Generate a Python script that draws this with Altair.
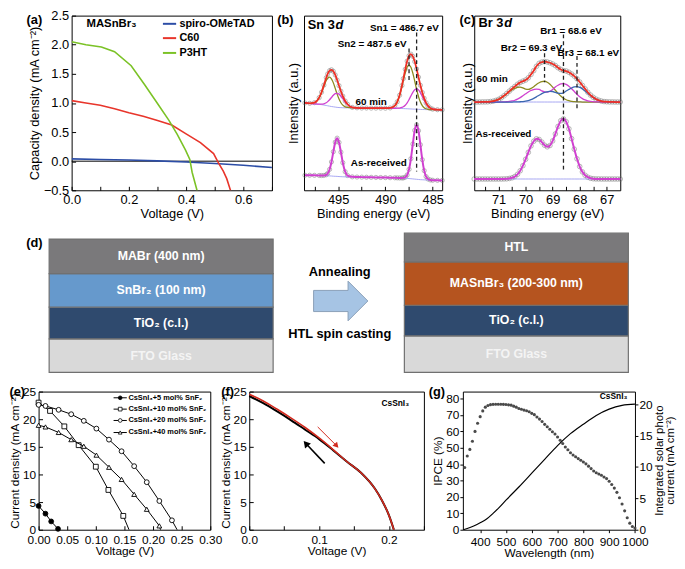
import altair as alt
import pandas as pd

FONT = "Liberation Sans"

# ============================ DATA ============================
# (a) MASnBr3 J-V with different HTLs
A_SERIES = ["spiro-OMeTAD", "C60", "P3HT"]
A_COLORS = ["#2c4da6", "#e8352b", "#7bc226"]
A_SPIRO_V = [0.0, 0.1, 0.2, 0.3, 0.4, 0.5, 0.6, 0.7]
A_SPIRO_J = [0.04, 0.03, 0.02, 0.005, -0.015, -0.04, -0.07, -0.11]
A_C60_V = [0.0, 0.05, 0.1, 0.15, 0.2, 0.25, 0.3, 0.35, 0.4, 0.45, 0.496, 0.513, 0.53, 0.542, 0.555, 0.565]
A_C60_J = [1.04, 1.0, 0.96, 0.9, 0.83, 0.77, 0.7, 0.62, 0.47, 0.32, 0.13, -0.03, -0.17, -0.3, -0.5, -0.62]
A_P3HT_V = [0.0, 0.05, 0.104, 0.15, 0.208, 0.254, 0.3, 0.34, 0.369, 0.398, 0.413, 0.421, 0.438, 0.446]
A_P3HT_J = [2.05, 2.0, 1.96, 1.88, 1.64, 1.32, 0.99, 0.7, 0.46, 0.19, 0.03, -0.19, -0.5, -0.62]

# (b) Sn 3d XPS (binding energy, intensity in a.u.)
SN_E = [498.5, 498.0, 497.5, 497.0, 496.75, 496.5, 496.25, 496.1, 495.9, 495.7,
        495.5, 495.3, 495.1, 494.9, 494.7, 494.5, 494.25, 494.0, 493.5, 493.0,
        492.5, 492.0, 491.5, 491.0, 490.5, 490.0, 489.5, 489.0, 488.75, 488.5,
        488.25, 488.1, 487.9, 487.7, 487.5, 487.3, 487.1, 486.9, 486.7, 486.5,
        486.3, 486.1, 485.9, 485.7, 485.5, 485.25, 485.0, 484.5, 484.0]
SN_TOP_BG = [93.0, 92.5, 92.0, 91.5, 91.2, 90.8, 90.3, 90.0, 89.6, 89.2,
             88.9, 88.6, 88.3, 88.1, 88.0, 87.9, 87.8, 87.8, 87.7, 87.7,
             87.6, 87.6, 87.5, 87.5, 87.5, 87.4, 87.4, 87.3, 87.3, 87.2,
             87.1, 87.0, 86.9, 86.8, 86.7, 86.6, 86.5, 86.4, 86.3, 86.2,
             86.1, 86.0, 86.0, 85.9, 85.9, 85.8, 85.8, 85.7, 85.7]
SN_TOP_SN2 = [0.0, 0.1, 1.3, 7.0, 12.7, 19.9, 26.7, 29.5, 31.0, 29.5,
              25.5, 19.9, 14.1, 9.0, 5.2, 2.8, 1.1, 0.4, 0.0, 0.0,
              0.0, 0.0, 0.0, 0.0, 0.0, 0.0, 0.3, 2.9, 6.8, 13.6,
              23.4, 30.0, 38.3, 44.5, 46.7, 44.5, 38.3, 30.0, 21.2, 13.6,
              7.9, 4.2, 2.0, 0.9, 0.3, 0.1, 0.0, 0.0, 0.0]
SN_TOP_SN1 = [0.0, 0.0, 0.0, 0.2, 0.5, 1.3, 2.9, 4.4, 6.8, 9.6,
              12.3, 14.3, 15.0, 14.3, 12.3, 9.6, 6.2, 3.4, 0.6, 0.1,
              0.0, 0.0, 0.0, 0.0, 0.0, 0.0, 0.0, 0.0, 0.1, 0.4,
              1.1, 1.9, 3.7, 6.3, 9.9, 13.9, 17.8, 20.7, 21.7, 20.7,
              17.8, 13.9, 9.9, 6.3, 3.7, 1.6, 0.6, 0.1, 0.0]
SN_BOT_BG = [16.0, 16.0, 15.9, 15.8, 15.7, 15.6, 15.5, 15.4, 15.3, 15.2,
             15.0, 14.9, 14.8, 14.6, 14.5, 14.4, 14.3, 14.3, 14.2, 14.1,
             14.0, 13.9, 13.8, 13.7, 13.6, 13.5, 13.4, 13.3, 13.2, 13.1,
             13.0, 12.9, 12.8, 12.7, 12.5, 12.3, 12.1, 11.9, 11.7, 11.5,
             11.3, 11.2, 11.1, 11.0, 10.9, 10.8, 10.7, 10.6, 10.5]
SN_BOT_SN1 = [0.0, 0.0, 0.0, 0.0, 0.0, 0.2, 1.0, 2.5, 6.9, 15.0,
              26.1, 36.4, 40.7, 36.4, 26.1, 15.0, 5.5, 1.4, 0.1, 0.0,
              0.0, 0.0, 0.0, 0.0, 0.0, 0.0, 0.0, 0.0, 0.0, 0.0,
              0.1, 0.3, 1.1, 3.6, 9.8, 21.4, 37.2, 51.9, 58.0, 51.9,
              37.2, 21.4, 9.8, 3.6, 1.1, 0.2, 0.0, 0.0, 0.0]
SN_MARK_E = [486.7, 487.5]
SN_MARK_TOP = [168, 151]
SN_MARK_BOT = [20, 116]

# (c) Br 3d XPS
BR_E = [71.9, 71.8, 71.7, 71.6, 71.5, 71.4, 71.3, 71.2, 71.1, 71.0,
        70.9, 70.8, 70.7, 70.6, 70.5, 70.4, 70.3, 70.2, 70.1, 70.0,
        69.9, 69.8, 69.7, 69.6, 69.5, 69.4, 69.3, 69.2, 69.1, 69.0,
        68.9, 68.8, 68.7, 68.6, 68.5, 68.4, 68.3, 68.2, 68.1, 68.0,
        67.9, 67.8, 67.7, 67.6, 67.5, 67.4, 67.3, 67.2, 67.1, 67.0,
        66.9, 66.8, 66.7, 66.6, 66.5]
BR_TOP_BG = 94.0
BR_TOP_BR2 = [0.0, 0.0, 0.0, 0.1, 0.1, 0.2, 0.5, 0.9, 1.7, 2.8,
              4.4, 6.4, 8.7, 11.0, 13.1, 14.5, 15.7, 15.9, 15.0, 13.8,
              13.5, 14.5, 16.3, 18.7, 20.5, 21.8, 22.1, 21.1, 18.9, 15.9,
              12.5, 9.2, 6.3, 4.0, 2.4, 1.4, 0.7, 0.4, 0.2, 0.1,
              0.0, 0.0, 0.0, 0.0, 0.0, 0.0, 0.0, 0.0, 0.0, 0.0,
              0.0, 0.0, 0.0, 0.0, 0.0]
BR_TOP_BR1 = [0.0, 0.0, 0.0, 0.0, 0.0, 0.0, 0.0, 0.0, 0.0, 0.0,
              0.1, 0.2, 0.3, 0.6, 1.1, 1.9, 3.1, 4.7, 6.7, 8.7,
              10.7, 12.3, 13.2, 13.8, 13.5, 11.8, 10.8, 10.6, 11.5, 13.4,
              16.1, 17.9, 19.2, 19.6, 18.8, 16.9, 14.2, 11.2, 8.2, 5.6,
              3.6, 2.2, 1.2, 0.6, 0.3, 0.1, 0.1, 0.0, 0.0, 0.0,
              0.0, 0.0, 0.0, 0.0, 0.0]
BR_TOP_BR3 = [0.0, 0.0, 0.0, 0.0, 0.0, 0.0, 0.0, 0.0, 0.0, 0.0,
              0.0, 0.0, 0.0, 0.0, 0.0, 0.1, 0.1, 0.3, 0.5, 0.9,
              1.6, 2.6, 3.9, 5.5, 7.2, 8.9, 10.2, 10.9, 11.4, 11.2,
              10.2, 9.4, 9.2, 9.8, 11.8, 13.4, 14.9, 16.0, 16.3, 15.6,
              14.0, 11.8, 9.2, 6.8, 4.7, 3.0, 1.8, 1.0, 0.5, 0.3,
              0.1, 0.1, 0.0, 0.0, 0.0]
BR_BOT_BG = 12.0
BR_BOT_BR1 = [0.0, 0.0, 0.0, 0.0, 0.0, 0.0, 0.0, 0.0, 0.0, 0.0,
              0.0, 0.1, 0.2, 0.6, 1.3, 2.6, 5.0, 8.8, 14.2, 21.0,
              28.4, 35.3, 40.2, 42.8, 42.1, 39.3, 36.0, 34.3, 35.7, 40.6,
              48.0, 56.0, 62.1, 64.1, 61.0, 53.5, 43.0, 31.8, 21.5, 13.3,
              7.6, 4.0, 1.9, 0.8, 0.3, 0.1, 0.1, 0.0, 0.0, 0.0,
              0.0, 0.0, 0.0, 0.0, 0.0]
BR_MARK_E = [68.6, 69.3, 68.1]
BR_MARK_TOP = [166, 146, 143]
BR_MARK_BOT = [20, 115, 86]

# (d) device schematic (bottom -> top), layer thickness in drawing units
D_LEFT_NAMES = ["FTO Glass", "TiO₂ (c.l.)", "SnBr₂ (100 nm)", "MABr (400 nm)"]
D_LEFT_THICK = [34, 32, 34, 35]
D_RIGHT_NAMES = ["FTO Glass", "TiO₂ (c.l.)", "MASnBr₃ (200-300 nm)", "HTL"]
D_RIGHT_THICK = [37, 31, 44, 29]

# (e) CsSnI3 with SnF2
E_LABELS = ["CsSnI₃+5 mol% SnF₂", "CsSnI₃+10 mol% SnF₂", "CsSnI₃+20 mol% SnF₂", "CsSnI₃+40 mol% SnF₂"]
E5_V = [0.0, 0.012, 0.022, 0.034]
E5_J = [4.3, 2.9, 1.5, 0.15]
E10_V = [0.0, 0.02, 0.045, 0.07, 0.1, 0.122, 0.148, 0.158]
E10_J = [23.0, 21.5, 18.7, 15.3, 11.4, 7.2, 2.5, 0.0]
E20_V = [0.0, 0.012, 0.035, 0.057, 0.079, 0.101, 0.123, 0.145, 0.167, 0.189, 0.211, 0.233, 0.242]
E20_J = [22.6, 22.4, 21.7, 20.9, 19.7, 18.3, 16.3, 14.2, 11.5, 8.6, 5.2, 1.7, 0.0]
E40_V = [0.0, 0.012, 0.035, 0.057, 0.079, 0.101, 0.123, 0.145, 0.167, 0.189, 0.211, 0.213]
E40_J = [18.9, 18.6, 17.6, 16.3, 15.1, 13.5, 11.3, 9.1, 6.4, 3.7, 0.7, 0.0]

# (f) CsSnI3 forward / reverse scan
F_V = [0.0, 0.02, 0.04, 0.06, 0.08, 0.1, 0.12, 0.14, 0.16, 0.18, 0.19, 0.2, 0.207]
F_FWD_J = [24.5, 23.3, 21.8, 20.2, 18.5, 16.6, 14.5, 12.3, 10.3, 7.4, 5.3, 2.6, 0.0]
F_REV_J = [24.2, 22.9, 21.4, 19.8, 18.1, 16.4, 14.4, 12.3, 10.3, 7.4, 5.3, 2.6, 0.0]
F_ARROW_RED = [0.098, 18.6, 0.125, 15.2]
F_ARROW_BLACK = [0.108, 12.0, 0.081, 15.6]

# (g) IPCE and integrated current
G_WL = [340, 350, 360, 370, 380, 390, 400, 410, 420, 430, 440, 450, 460, 470, 480, 490,
        500, 510, 520, 530, 540, 550, 560, 570, 580, 590, 600, 610, 620, 630, 640, 650,
        660, 670, 680, 690, 700, 710, 720, 730, 740, 750, 760, 770, 780, 790, 800, 810,
        820, 830, 840, 850, 860, 870, 880, 890, 900, 910, 920, 930, 940, 950, 960, 970,
        980, 990, 1000]
G_IPCE = [38, 45, 49, 54, 60, 65, 69, 72.5, 74.8, 75.8, 76.3, 76.5, 76.6, 76.6, 76.6, 76.5,
          76.4, 76.2, 76.0, 75.4, 74.8, 74.0, 73.5, 73.0, 72.6, 72.0, 71.0, 70.2, 68.8, 67.5, 66.0, 64.3,
          62.8, 61.3, 59.8, 58.4, 56.6, 54.6, 52.6, 50.5, 48.8, 47.0, 45.6, 44.5, 43.4, 42.4, 41.3, 40.2,
          38.8, 37.3, 35.8, 34.8, 34.0, 33.2, 32.2, 31.2, 29.6, 27.6, 25.4, 22.8, 19.5, 15.7, 11.5, 7.3,
          4.0, 2.0, 1.0]
G_JSC_WL = [335, 350, 375, 400, 425, 450, 475, 500, 550, 600, 650, 700, 750, 800, 850, 900, 950, 1000]
G_JSC = [0.0, 0.2, 0.6, 1.1, 1.7, 2.6, 3.6, 4.7, 6.8, 9.0, 11.2, 13.4, 15.3, 16.8, 18.2, 19.2, 19.8, 20.0]
G_RIGHT_TITLE = ["Integrated solar photo", "current (mA cm⁻²)"]

# ============================ LAYOUT / STYLE ============================
ROW1_H = 177
A_W, B_W, C_W = 203, 140, 148
D_W, D_H, D_BASE = 597.7, 152.5, 6
E_W, F_W, G_W, ROW3_H = 174, 177, 174.4, 140
ROW_GAP = 6
LEFT_EDGE = -29.5
TOP_LABEL_Y = 4
FRAME = alt.ViewBackground(stroke="black", strokeWidth=1)
ONE = pd.DataFrame({"k": [0]})


def every_expr(step):
    return f"abs(datum.value / {step} - round(datum.value / {step})) < 1e-6 ? datum.label : ''"


def axis(title, values=None, fmt=None, every=None, fs=13, lp=3, tp=2, tick=4, labels=True,
         inward=True, orient=None):
    kw = dict(title=title, domain=False, grid=False, labels=labels,
              labelFont=FONT, labelFontSize=fs, labelColor="black", labelPadding=lp,
              labelFlush=False, labelOverlap=False,
              titleFont=FONT, titleFontSize=fs, titleFontWeight="normal", titleColor="black",
              titlePadding=tp)
    if values is not None:
        kw["values"] = values
    if fmt is not None:
        kw["format"] = fmt
    if every is not None:
        kw["labelExpr"] = every_expr(every)
    if tick > 0:
        kw.update(ticks=True, tickSize=tick, tickColor="black", tickWidth=1)
        if inward:
            kw["offset"] = -tick
    else:
        kw["ticks"] = False
    if orient:
        kw["orient"] = orient
    return alt.Axis(**kw)


def panel_label(t, x, y, align="center"):
    return alt.Chart(ONE).mark_text(font=FONT, fontSize=13, fontWeight="bold", align=align,
                                    baseline="middle", color="black").encode(
        x=alt.value(x), y=alt.value(y), text=alt.value(t))


def anchor(x, y):
    # invisible 1px tick used only to fix the layout bounds of a row
    return alt.Chart(ONE).mark_rule(opacity=0, strokeWidth=1).encode(
        x=alt.value(x), x2=alt.value(x + 1), y=alt.value(y))


def text_at(x, y, t, X, Y, size=10, weight="bold", align="center", style="normal", dx=0):
    return alt.Chart(pd.DataFrame({"x": [x], "y": [y], "t": [t]})).mark_text(
        font=FONT, fontSize=size, fontWeight=weight, fontStyle=style, align=align,
        baseline="middle", dx=dx, color="black").encode(x=X, y=Y, text="t:N")


def line_layer(xs, ys, X, Y, color, width, interp="monotone", clip=False):
    return alt.Chart(pd.DataFrame({"x": list(xs), "y": list(ys)})).mark_line(
        color=color, strokeWidth=width, interpolate=interp, clip=clip).encode(x=X, y=Y)


# ============================ (a) ============================
AX = alt.X("x:Q", scale=alt.Scale(domain=[0, 0.7], nice=False, zero=False),
           axis=axis("Voltage (V)", [0, 0.1, 0.2, 0.3, 0.4, 0.5, 0.6, 0.7], ".1f", every=0.2))
AY = alt.Y("y:Q", scale=alt.Scale(domain=[-0.5, 2.5], nice=False, zero=False),
           axis=axis("Capacity density (mA cm⁻²)", [-0.5, 0, 0.5, 1, 1.5, 2, 2.5], ".1f"))
a_df = pd.concat([pd.DataFrame({"x": v, "y": j, "s": s}) for v, j, s in
                  zip([A_SPIRO_V, A_C60_V, A_P3HT_V], [A_SPIRO_J, A_C60_J, A_P3HT_J], A_SERIES)])
a_zero = alt.Chart(pd.DataFrame({"y": [0.0]})).mark_rule(color="black", strokeWidth=1).encode(y=AY)
a_lines = alt.Chart(a_df).mark_line(strokeWidth=1.6, clip=True).encode(
    x=AX, y=AY,
    color=alt.Color("s:N", scale=alt.Scale(domain=A_SERIES, range=A_COLORS), legend=None))
a_legend = []
for name, col, yy in zip(A_SERIES, A_COLORS, [8.3, 22.8, 37.8]):
    a_legend.append(alt.Chart(ONE).mark_rule(color=col, strokeWidth=2).encode(
        x=alt.value(92.5), x2=alt.value(105.9), y=alt.value(yy)))
    a_legend.append(alt.Chart(ONE).mark_text(font=FONT, fontSize=11, fontWeight="bold", align="left",
                                             baseline="middle", color="black").encode(
        x=alt.value(109.2), y=alt.value(yy), text=alt.value(name)))
chart_a = alt.layer(
    a_zero, a_lines, *a_legend,
    text_at(0.139, 2.36, "MASnBr₃", AX, AY, size=11.5),
    panel_label("(a)", -37.8, TOP_LABEL_Y),
).properties(width=A_W, height=ROW1_H, view=FRAME)

# ============================ (b) ============================
BX = alt.X("x:Q", scale=alt.Scale(domain=[484.0, 498.6], reverse=True, nice=False, zero=False),
           axis=axis("Binding energy (eV)", [485, 487.5, 490, 492.5, 495, 497.5], "~g", every=5))
BY = alt.Y("y:Q", scale=alt.Scale(domain=[0, 186], nice=False, zero=False),
           axis=axis("Intensity (a.u.)", tick=0, labels=False, tp=4))
sn = pd.DataFrame({"e": SN_E, "tb": SN_TOP_BG, "t2": SN_TOP_SN2, "t1": SN_TOP_SN1,
                   "bb": SN_BOT_BG, "b1": SN_BOT_SN1})
sn_top_env = sn.tb + sn.t2 + sn.t1
sn_bot_env = sn.bb + sn.b1
sn_pts = pd.DataFrame({"x": list(sn.e) * 2, "y": list(sn_top_env) + list(sn_bot_env)})
b_layers = [
    alt.Chart(sn_pts).mark_point(shape="circle", filled=False, color="#6c6c6c", size=18,
                                 strokeWidth=0.7).encode(x=BX, y=BY),
    line_layer(sn.e, sn.tb, BX, BY, "#9d9df2", 0.9),
    line_layer(sn.e, sn.bb, BX, BY, "#9d9df2", 0.9),
    line_layer(sn.e, sn.tb + sn.t2, BX, BY, "#8c8a1f", 1.3),
    line_layer(sn.e, sn.tb + sn.t1, BX, BY, "#d040d0", 1.3),
    line_layer(sn.e, sn_top_env, BX, BY, "#ee2f25", 1.8),
    line_layer(sn.e, sn_bot_env, BX, BY, "#d040d0", 2.0),
    alt.Chart(pd.DataFrame({"x": SN_MARK_E, "y": SN_MARK_TOP, "y2": SN_MARK_BOT})).mark_rule(
        strokeDash=[4, 3], strokeWidth=1.3, color="#222222").encode(x=BX, y=BY, y2="y2:Q"),
    text_at(498.2, 176, "Sn 3", BX, BY, size=13, align="left"),
    text_at(498.2, 176, "d", BX, BY, size=13, align="left", style="italic", dx=28),
    text_at(488.0, 173, "Sn1 = 486.7 eV", BX, BY),
    text_at(491.4, 156, "Sn2 = 487.5 eV", BX, BY),
    text_at(491.5, 94, "60 min", BX, BY),
    text_at(490.7, 29, "As-received", BX, BY),
    panel_label("(b)", -18.8, TOP_LABEL_Y),
]
chart_b = alt.layer(*b_layers).properties(width=B_W, height=ROW1_H, view=FRAME)

# ============================ (c) ============================
CX = alt.X("x:Q", scale=alt.Scale(domain=[66.5, 71.9], reverse=True, nice=False, zero=False),
           axis=axis("Binding energy (eV)", [67, 67.5, 68, 68.5, 69, 69.5, 70, 70.5, 71, 71.5], "~g", every=1))
CY = alt.Y("y:Q", scale=alt.Scale(domain=[0, 186], nice=False, zero=False),
           axis=axis("Intensity (a.u.)", tick=0, labels=False, tp=0))
br = pd.DataFrame({"e": BR_E, "o": BR_TOP_BR2, "m": BR_TOP_BR1, "b": BR_TOP_BR3, "bm": BR_BOT_BR1})
br_top_env = BR_TOP_BG + br.o + br.m + br.b
br_bot_env = BR_BOT_BG + br.bm
br_pts = pd.DataFrame({"x": list(br.e) * 2, "y": list(br_top_env) + list(br_bot_env)})
c_layers = [
    alt.Chart(br_pts).mark_point(shape="circle", filled=False, color="#6c6c6c", size=22,
                                 strokeWidth=0.7).encode(x=CX, y=CY),
    line_layer(br.e, [BR_TOP_BG] * len(BR_E), CX, CY, "#9d9df2", 0.9),
    line_layer(br.e, [BR_BOT_BG] * len(BR_E), CX, CY, "#9d9df2", 0.9),
    line_layer(br.e, BR_TOP_BG + br.o, CX, CY, "#8c8a1f", 1.3),
    line_layer(br.e, BR_TOP_BG + br.m, CX, CY, "#d040d0", 1.3),
    line_layer(br.e, BR_TOP_BG + br.b, CX, CY, "#3a66b0", 1.3),
    line_layer(br.e, br_top_env, CX, CY, "#ee2f25", 1.8),
    line_layer(br.e, br_bot_env, CX, CY, "#d040d0", 2.0),
    alt.Chart(pd.DataFrame({"x": BR_MARK_E, "y": BR_MARK_TOP, "y2": BR_MARK_BOT})).mark_rule(
        strokeDash=[4, 3], strokeWidth=1.3, color="#222222").encode(x=CX, y=CY, y2="y2:Q"),
    text_at(71.74, 178, "Br 3", CX, CY, size=13, align="left"),
    text_at(71.74, 178, "d", CX, CY, size=13, align="left", style="italic", dx=26),
    text_at(68.32, 170, "Br1 = 68.6 eV", CX, CY),
    text_at(69.78, 152, "Br2 = 69.3 eV", CX, CY),
    text_at(67.68, 146, "Br3 = 68.1 eV", CX, CY),
    text_at(71.24, 118, "60 min", CX, CY),
    text_at(70.82, 60, "As-received", CX, CY),
    panel_label("(c)", -7, TOP_LABEL_Y),
]
chart_c = alt.layer(*c_layers).properties(width=C_W, height=ROW1_H, view=FRAME)

# ============================ (d) ============================
D_STACK_X = {"left": (10.7, 237.7), "right": (370.7, 597.7)}
D_FILL = {"FTO Glass": "#d9d9d9", "TiO₂ (c.l.)": "#2f4a6e", "SnBr₂ (100 nm)": "#6699cc",
          "MABr (400 nm)": "#7a797b", "MASnBr₃ (200-300 nm)": "#b5541f", "HTL": "#7a797b"}
rows = []
for stack, names, thick in [("left", D_LEFT_NAMES, D_LEFT_THICK), ("right", D_RIGHT_NAMES, D_RIGHT_THICK)]:
    x0, x1 = D_STACK_X[stack]
    base = D_BASE
    for n, t in zip(names, thick):
        rows.append({"x0": x0, "x1": x1, "y0": base, "y1": base + t, "layer": n,
                     "xc": (x0 + x1) / 2, "yc": base + t / 2,
                     "tc": "#f4f4f4" if n == "FTO Glass" else "white"})
        base += t
d_df = pd.DataFrame(rows)
DX = alt.Scale(domain=[0, D_W], nice=False, zero=False)
DY = alt.Scale(domain=[0, D_H], nice=False, zero=False)
d_rects = alt.Chart(d_df).mark_rect(stroke="#707070", strokeWidth=1.2).encode(
    x=alt.X("x0:Q", scale=DX, axis=None), x2="x1:Q",
    y=alt.Y("y0:Q", scale=DY, axis=None), y2="y1:Q",
    fill=alt.Fill("layer:N", scale=alt.Scale(domain=list(D_FILL), range=list(D_FILL.values())), legend=None))
d_text = alt.Chart(d_df).mark_text(font=FONT, fontSize=12.5, fontWeight="bold").encode(
    x=alt.X("xc:Q", scale=DX, axis=None), y=alt.Y("yc:Q", scale=DY, axis=None),
    text="layer:N", color=alt.Color("tc:N", scale=None))
ARROW = "M -1 -0.39 L 0.27 -0.39 L 0.27 -0.73 L 1 0 L 0.27 0.73 L 0.27 0.39 L -1 0.39 Z"
d_proc = pd.DataFrame({"xc": [306.2, 305.2, 305.2], "yc": [78.3, 108.0, 45.0],
                       "t": ["", "Annealing", "HTL spin casting"]})
d_arrow = alt.Chart(d_proc.iloc[:1]).mark_point(shape=ARROW, size=3025, filled=True, fill="#a6c4e4",
                                                stroke="#8a9fb8", strokeWidth=1, opacity=1).encode(
    x=alt.X("xc:Q", scale=DX, axis=None), y=alt.Y("yc:Q", scale=DY, axis=None))
d_words = alt.Chart(d_proc.iloc[1:]).mark_text(font=FONT, fontSize=13, fontWeight="bold", color="black").encode(
    x=alt.X("xc:Q", scale=DX, axis=None), y=alt.Y("yc:Q", scale=DY, axis=None), text="t:N")
chart_d = alt.layer(d_rects, d_text, d_arrow, d_words, panel_label("(d)", -4.3, 15.2),
                    anchor(LEFT_EDGE, 0), anchor(0, D_H)).properties(width=D_W, height=D_H)

# ============================ (e) ============================
EX = alt.X("x:Q", scale=alt.Scale(domain=[0, 0.30], nice=False, zero=False),
           axis=axis("Voltage (V)", [0, 0.05, 0.1, 0.15, 0.2, 0.25, 0.3], ".2f", fs=12, lp=5, tp=0))
EY = alt.Y("y:Q", scale=alt.Scale(domain=[0, 25], nice=False, zero=False),
           axis=axis("Current density (mA cm⁻²)", [0, 5, 10, 15, 20, 25], "d", fs=12, tp=1))
E_MARKS = [("circle", "black"), ("square", "white"), ("circle", "white"), ("triangle-up", "white")]
e_layers = []
for (v, j), (shp, fill) in zip([(E5_V, E5_J), (E10_V, E10_J), (E20_V, E20_J), (E40_V, E40_J)], E_MARKS):
    df = pd.DataFrame({"x": v, "y": j})
    e_layers.append(alt.Chart(df).mark_line(color="black", strokeWidth=1).encode(x=EX, y=EY))
    e_layers.append(alt.Chart(df[df.y > 0]).mark_point(shape=shp, filled=True, fill=fill, stroke="black",
                                                       strokeWidth=0.9, size=24, opacity=1).encode(x=EX, y=EY))
for lab, (shp, fill), yy in zip(E_LABELS, E_MARKS, [6.3, 17.8, 29.3, 41.5]):
    e_layers.append(alt.Chart(ONE).mark_rule(color="black", strokeWidth=1).encode(
        x=alt.value(76), x2=alt.value(89.4), y=alt.value(yy)))
    e_layers.append(alt.Chart(ONE).mark_point(shape=shp, filled=True, fill=fill, stroke="black",
                                              strokeWidth=0.8, size=14, opacity=1).encode(
        x=alt.value(82.7), y=alt.value(yy)))
    e_layers.append(alt.Chart(ONE).mark_text(font=FONT, fontSize=7.5, fontWeight="bold", align="left",
                                             baseline="middle", color="black").encode(
        x=alt.value(91), y=alt.value(yy), text=alt.value(lab)))
e_layers.append(panel_label("(e)", LEFT_EDGE, 0.3, align="left"))
chart_e = alt.layer(*e_layers).properties(width=E_W, height=ROW3_H, view=FRAME)

# ============================ (f) ============================
FX = alt.X("x:Q", scale=alt.Scale(domain=[0, 0.25], nice=False, zero=False),
           axis=axis("Voltage (V)", [0, 0.05, 0.1, 0.15, 0.2, 0.25], ".1f", every=0.1, fs=12, lp=5, tp=0))
FY = alt.Y("y:Q", scale=alt.Scale(domain=[0, 25], nice=False, zero=False),
           axis=axis("Current density (mA cm⁻²)", [0, 5, 10, 15, 20, 25], "d", fs=12, tp=1))


def arrow_layers(a, color, width, head, angle):
    xs, ys, xe, ye = a
    return [
        alt.Chart(pd.DataFrame({"x": [xs], "y": [ys], "x2": [xe], "y2": [ye]})).mark_rule(
            color=color, strokeWidth=width).encode(x=FX, y=FY, x2="x2:Q", y2="y2:Q"),
        alt.Chart(pd.DataFrame({"x": [xe], "y": [ye]})).mark_point(
            shape="triangle-up", filled=True, color=color, size=head, angle=angle, opacity=1).encode(x=FX, y=FY),
    ]


f_layers = [
    line_layer(F_V, F_REV_J, FX, FY, "black", 2.0),
    line_layer(F_V, F_FWD_J, FX, FY, "#d22a1e", 1.6),
    *arrow_layers(F_ARROW_RED, "#d22a1e", 1.0, 40, 138),
    *arrow_layers(F_ARROW_BLACK, "black", 1.6, 60, 320),
    text_at(0.209, 22.9, "CsSnI₃", FX, FY, size=8.5),
    panel_label("(f)", -21.8, 0.3),
]
chart_f = alt.layer(*f_layers).properties(width=F_W, height=ROW3_H, view=FRAME)

# ============================ (g) ============================
GX = alt.X("x:Q", scale=alt.Scale(domain=[333, 1000], nice=False, zero=False),
           axis=axis("Wavelength (nm)", [400, 500, 600, 700, 800, 900, 1000], "d", fs=12, tick=3,
                     inward=False, lp=4, tp=0))
GYL = alt.Y("y:Q", scale=alt.Scale(domain=[0, 84.3], nice=False, zero=False),
            axis=axis("IPCE (%)", [0, 10, 20, 30, 40, 50, 60, 70, 80], "d", fs=12, tick=3, inward=False,
                      lp=1, tp=1))
GYR = alt.Y("y:Q", scale=alt.Scale(domain=[0, 22], nice=False, zero=False),
            axis=axis(None, [0, 5, 10, 15, 20], "d", fs=12, tick=3, inward=False, lp=1, orient="right"))
g_title_layers = [
    alt.Chart(ONE).mark_text(font=FONT, fontSize=11.5, angle=270, align="center", baseline="middle",
                             color="black").encode(x=alt.value(G_W + dx), y=alt.value(ROW3_H / 2),
                                                   text=alt.value(t))
    for t, dx in zip(G_RIGHT_TITLE, [25.0, 36.5])
]
g_left = alt.layer(
    alt.Chart(pd.DataFrame({"x": G_WL, "y": G_IPCE})).mark_circle(size=10, color="#4a4a4a", opacity=1).encode(x=GX, y=GYL),
    text_at(917, 81.3, "CsSnI₃", GX, GYL, size=8.5),
    panel_label("(g)", -26.3, 0.3),
    *g_title_layers,
)
g_right = line_layer(G_JSC_WL, G_JSC, GX, GYR, "black", 1.2)
chart_g = alt.layer(g_left, g_right).resolve_scale(y="independent").properties(
    width=G_W, height=ROW3_H, view=FRAME)

# ============================ ASSEMBLE ============================
spacer = alt.layer(
    alt.Chart(ONE).mark_point(opacity=0).encode(x=alt.X("k:Q", axis=None), y=alt.Y("k:Q", axis=None)),
    anchor(LEFT_EDGE, 0),
).properties(width=1, height=ROW1_H)
row1 = alt.hconcat(spacer, chart_a, chart_b, chart_c, spacing=32.5, bounds="flush")
row3 = alt.hconcat(chart_e, chart_f, chart_g, spacing=39.5, bounds="flush")
chart = alt.vconcat(row1, chart_d, row3, spacing=ROW_GAP).properties(
    padding={"left": 0, "top": -3, "right": 0, "bottom": 0}
).configure(font=FONT).configure_view(stroke=None)

chart.save("out.html", embed_options={"renderer": "svg", "actions": False})
